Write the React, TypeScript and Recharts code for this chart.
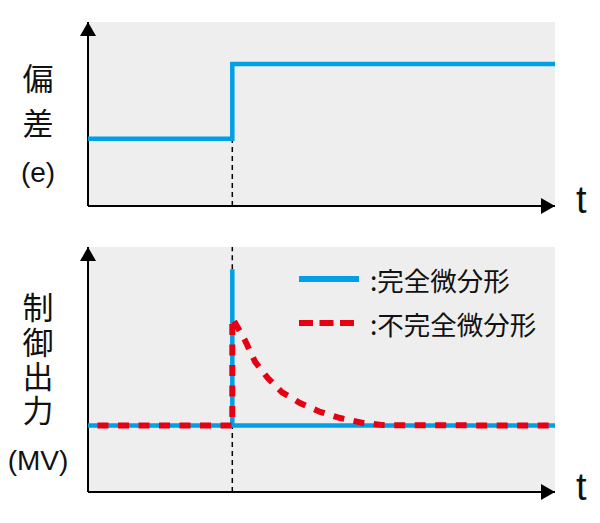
import React from 'react';
import {
  LineChart,
  Line,
  XAxis,
  YAxis,
  CartesianGrid,
  ReferenceLine,
  ReferenceDot,
  Legend,
} from 'recharts';

// ---- data ----
const stepTime = 30.9;
const timeDeviation = [0, 30.9, 30.9, 100];
const deviationValues = [3.66, 3.66, 7.72, 7.72];

const timeComplete = [0, 30.9, 30.9, 30.9, 100];
const completeValues = [2.71, 2.71, 9.09, 2.71, 2.71];

const timeIncomplete = [0, 30.9, 30.9, 33.6, 35.8, 38.5, 41.5, 45.4, 49.7, 54.0, 58.9, 63.2, 100];
const incompleteValues = [2.71, 2.71, 7.1, 6.2, 5.31, 4.65, 4.08, 3.63, 3.27, 3.02, 2.82, 2.73, 2.71];

const seriesNames = [':完全微分形', ':不完全微分形'];
const topLabels = ['偏', '差', '(e)'];
const bottomLabels = ['制御出力', '(MV)'];
const axisName = 't';

const deviationData = timeDeviation.map((t, i) => ({ t, v: deviationValues[i] }));
const completeData = timeComplete.map((t, i) => ({ t, v: completeValues[i] }));
const incompleteData = timeIncomplete.map((t, i) => ({ t, v: incompleteValues[i] }));

const BLUE = '#00a0e9';
const RED = '#e60012';
const GRAY = '#eeeeee';
const CJK = '"Noto Sans CJK JP", "Liberation Sans", sans-serif';
const LATIN = '"Liberation Sans", Arial, sans-serif';

const UpArrow = (props: any) => {
  const { cx, cy } = props;
  return <polygon points={`${cx},${cy} ${cx - 8},${cy + 14} ${cx + 8},${cy + 14}`} fill="#000" />;
};
const RightArrow = (props: any) => {
  const { cx, cy } = props;
  return <polygon points={`${cx},${cy} ${cx - 14},${cy - 8} ${cx - 14},${cy + 8}`} fill="#000" />;
};

const LegendContent = (props: any) => {
  const payload = [...(props.payload || [])].sort(
    (a: any, b: any) => seriesNames.indexOf(a.value) - seriesNames.indexOf(b.value),
  );
  return (
    <div>
      {payload.map((entry: any, i: number) => {
        const dashed = entry.value === seriesNames[1];
        return (
          <svg key={i} width={260} height={44} style={{ display: 'block' }}>
            <line
              x1={0}
              x2={dashed ? 55 : 60}
              y1={22}
              y2={22}
              stroke={dashed ? RED : BLUE}
              strokeWidth={6}
              strokeDasharray={dashed ? '14 6.5' : undefined}
            />
            <text x={71} y={22} dominantBaseline="central" fontSize={26.5} fontFamily={CJK} fill="#111">
              {entry.value}
            </text>
          </svg>
        );
      })}
    </div>
  );
};

function axisLines() {
  return [
    <ReferenceLine key="ax" y={0} stroke="#000" strokeWidth={2} />,
    <ReferenceLine key="ay" x={0} stroke="#000" strokeWidth={2} />,
  ];
}

export default function App() {
  return (
    <div style={{ position: 'fixed', left: 0, top: 0, width: 600, height: 523, background: '#fff' }}>
      <div style={{ position: 'absolute', left: 0, top: 0 }}>
        <LineChart width={600} height={230} margin={{ top: 22, right: 45, bottom: 24, left: 88 }}>
          <CartesianGrid fill={GRAY} stroke="none" horizontal={false} vertical={false} />
          <XAxis type="number" dataKey="t" domain={[0, 100]} tick={false} tickLine={false} axisLine={false} height={0} />
          <YAxis type="number" domain={[0, 10]} tick={false} tickLine={false} axisLine={false} width={0} />
          <ReferenceLine
            segment={[
              { x: stepTime, y: 0 },
              { x: stepTime, y: deviationValues[0] },
            ]}
            stroke="#000"
            strokeWidth={1.5}
            strokeDasharray="5 4"
          />
          {axisLines()}
          <Line
            data={deviationData}
            dataKey="v"
            type="linear"
            stroke={BLUE}
            strokeWidth={4.5}
            dot={false}
            isAnimationActive={false}
          />
          <ReferenceDot x={0} y={10} shape={UpArrow} />
          <ReferenceDot x={100} y={0} shape={RightArrow} />
        </LineChart>
      </div>
      <div style={{ position: 'absolute', left: 0, top: 230 }}>
        <LineChart width={600} height={293} margin={{ top: 17, right: 45, bottom: 31, left: 88 }}>
          <CartesianGrid fill={GRAY} stroke="none" horizontal={false} vertical={false} />
          <XAxis type="number" dataKey="t" domain={[0, 100]} tick={false} tickLine={false} axisLine={false} height={0} />
          <YAxis type="number" domain={[0, 10]} tick={false} tickLine={false} axisLine={false} width={0} />
          <ReferenceLine
            segment={[
              { x: stepTime, y: 0 },
              { x: stepTime, y: completeValues[0] },
            ]}
            stroke="#000"
            strokeWidth={1.5}
            strokeDasharray="5 4"
          />
          <ReferenceLine
            segment={[
              { x: stepTime, y: completeValues[2] },
              { x: stepTime, y: 10 },
            ]}
            stroke="#000"
            strokeWidth={1.5}
            strokeDasharray="5 4"
          />
          {axisLines()}
          <Line
            data={completeData}
            dataKey="v"
            name={seriesNames[0]}
            type="linear"
            stroke={BLUE}
            strokeWidth={4.5}
            dot={false}
            isAnimationActive={false}
          />
          <Line
            data={incompleteData}
            dataKey="v"
            name={seriesNames[1]}
            type="linear"
            stroke={RED}
            strokeWidth={6}
            strokeDasharray="11 9.5"
            strokeDashoffset={11}
            dot={false}
            isAnimationActive={false}
          />
          <ReferenceDot x={0} y={10} shape={UpArrow} />
          <ReferenceDot x={100} y={0} shape={RightArrow} />
          <Legend
            layout="vertical"
            align="center"
            verticalAlign="middle"
            content={LegendContent}
            wrapperStyle={{ position: 'absolute', left: 299, top: 27, width: 260, height: 88 }}
          />
        </LineChart>
      </div>
      <svg width={600} height={523} style={{ position: 'absolute', left: 0, top: 0, pointerEvents: 'none' }}>
        <text x={38} y={76} textAnchor="middle" dominantBaseline="central" fontSize={31} fontFamily={CJK} fill="#111">
          {topLabels[0]}
        </text>
        <text x={38} y={121} textAnchor="middle" dominantBaseline="central" fontSize={31} fontFamily={CJK} fill="#111">
          {topLabels[1]}
        </text>
        <text x={38} y={172} textAnchor="middle" dominantBaseline="central" fontSize={28} fontFamily={LATIN} fill="#111">
          {topLabels[2]}
        </text>
        <text
          x={38}
          y={292}
          fontSize={31}
          fontFamily={CJK}
          fill="#111"
          style={{ writingMode: 'vertical-rl', letterSpacing: '3.3px' }}
          textAnchor="start"
        >
          {bottomLabels[0]}
        </text>
        <text x={38} y={460} textAnchor="middle" dominantBaseline="central" fontSize={28} fontFamily={LATIN} fill="#111">
          {bottomLabels[1]}
        </text>
        <text x={576} y={213} fontSize={38} fontFamily={LATIN} fill="#111">
          {axisName}
        </text>
        <text x={576} y={500} fontSize={38} fontFamily={LATIN} fill="#111">
          {axisName}
        </text>
      </svg>
    </div>
  );
}
